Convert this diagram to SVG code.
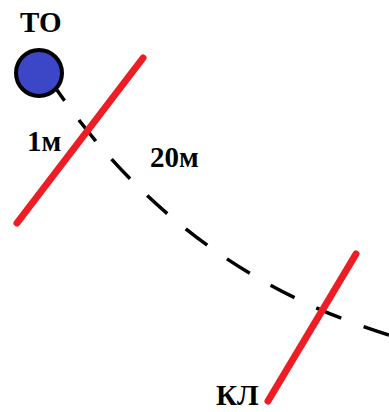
<svg xmlns="http://www.w3.org/2000/svg" width="389" height="412" viewBox="0 0 389 412">
<style>
.lbl{font-family:"Liberation Serif","Times New Roman",serif;font-weight:bold;font-size:29px;fill:#000}
.red{stroke:#ee1c24;stroke-width:7;stroke-linecap:round;fill:none}
.path{stroke:#000;stroke-width:3.5;fill:none;stroke-dasharray:27 24}
</style>
<rect width="389" height="412" fill="#fff"/>
<g id="connectors">
<path class="path" d="M57,90 Q182,271 389,335" stroke-dashoffset="14"/>
</g>
<g id="line1"><line class="red" x1="143" y1="58" x2="17" y2="223"/></g>
<g id="line2"><line class="red" x1="356" y1="254" x2="268" y2="401"/></g>
<g id="node-to">
<circle cx="39" cy="73" r="23" fill="#3c47c8" stroke="#000" stroke-width="4"/>
<text class="lbl" x="20" y="32">ТО</text>
</g>
<g id="label-1m"><text class="lbl" x="27" y="151">1м</text></g>
<g id="label-20m"><text class="lbl" x="150" y="167">20м</text></g>
<g id="node-kl"><text class="lbl" x="216" y="405">КЛ</text></g>
</svg>
